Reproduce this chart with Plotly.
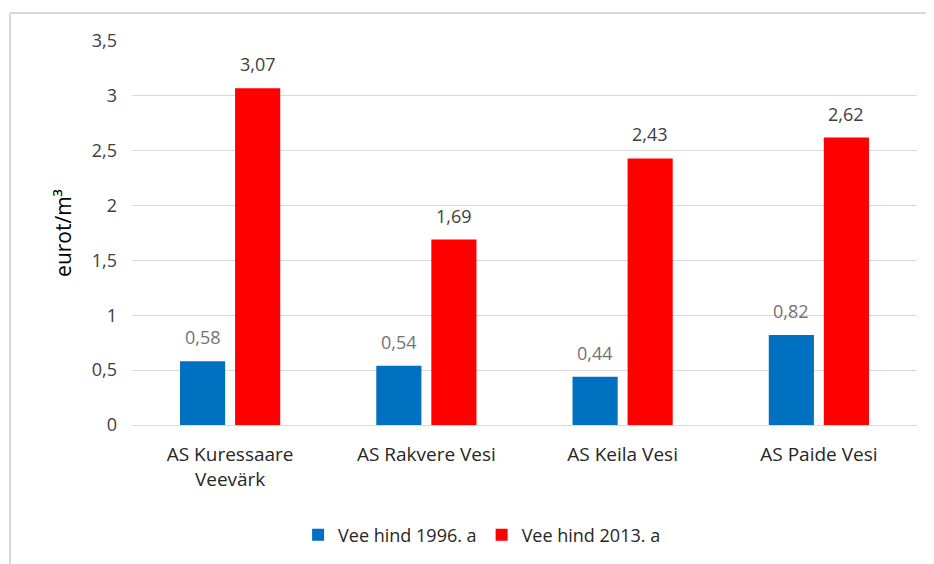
import plotly.graph_objects as go

categories = ["AS Kuressaare<br>Veevärk", "AS Rakvere Vesi", "AS Keila Vesi", "AS Paide Vesi"]
series_names = ["Vee hind 1996. a", "Vee hind 2013. a"]
values_1996 = [0.58, 0.54, 0.44, 0.82]
values_2013 = [3.07, 1.69, 2.43, 2.62]
y_ticks = [0, 0.5, 1, 1.5, 2, 2.5, 3, 3.5]

colors = ["#0070C0", "#FF0000"]
label_colors = ["#737373", "#404040"]
FONT = "Open Sans"

fig = go.Figure()
for name, vals, col in zip(series_names, [values_1996, values_2013], colors):
    fig.add_trace(go.Bar(x=categories, y=vals, name=name, marker=dict(color=col, line=dict(width=0))))

def fmt(v):
    return f"{v:.2f}".replace(".", ",")

annotations = []
for i, (vals, lc) in enumerate(zip([values_1996, values_2013], label_colors)):
    shift = -27.5 if i == 0 else 27.5
    for c, v in zip(categories, vals):
        annotations.append(dict(x=c, y=v, xref="x", yref="y", text=fmt(v), showarrow=False,
                                xshift=shift, yshift=24, font=dict(family=FONT, size=18, color=lc)))

fig.update_layout(
    width=926, height=556,
    margin=dict(l=124, r=17, t=33, b=138),
    paper_bgcolor="white", plot_bgcolor="white",
    separators=", ",
    barmode="group", bargap=0.439, bargroupgap=0.18,
    font=dict(family=FONT, size=18, color="#404040"),
    annotations=annotations,
    legend=dict(orientation="h", x=0.446, xanchor="center", y=-0.283, yanchor="middle",
                font=dict(family=FONT, size=18, color="#262626"), itemwidth=30,
                traceorder="normal"),
    shapes=[
        dict(type="line", xref="paper", yref="paper", x0=-0.1554, x1=1.05, y0=1.0727, y1=1.0727,
             line=dict(color="#D9D9D9", width=2)),
        dict(type="line", xref="paper", yref="paper", x0=-0.1554, x1=-0.1554, y0=1.0727, y1=-0.4,
             line=dict(color="#D9D9D9", width=2)),
    ],
)
fig.update_yaxes(range=[0, 3.5], tickvals=y_ticks, showgrid=True, gridcolor="#D9D9D9", gridwidth=1,
                 zeroline=False, showline=False, ticks="", ticklen=0, ticklabelstandoff=14,
                 tickfont=dict(family=FONT, size=18, color="#404040"),
                 title=dict(text="eurot/m³", font=dict(family=FONT, size=21, color="#000000"), standoff=14))
fig.update_xaxes(showgrid=False, showline=True, linecolor="#D9D9D9", linewidth=1, ticks="",
                 ticklabelstandoff=12,
                 tickfont=dict(family=FONT, size=19, color="#262626"))

fig.write_html("out.html")
